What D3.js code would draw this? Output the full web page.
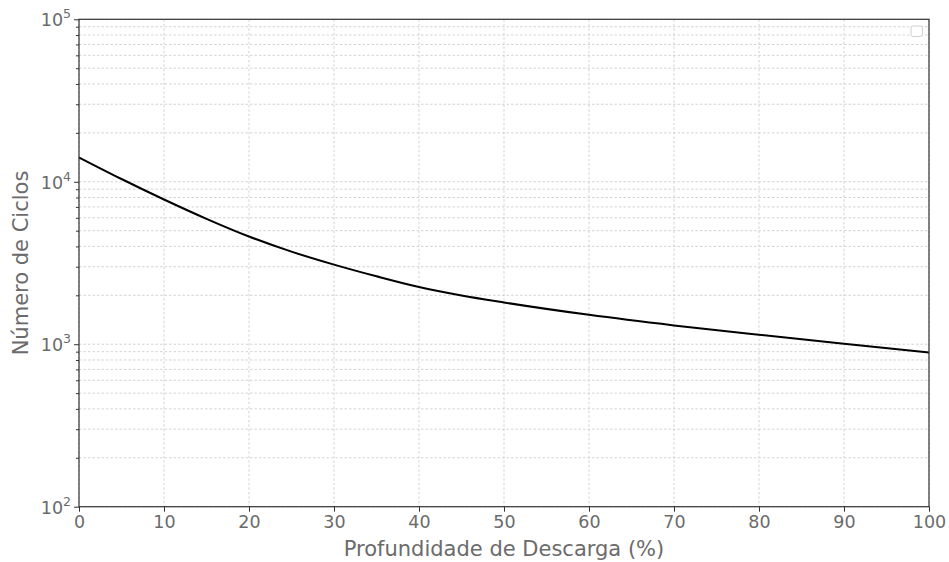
<!DOCTYPE html>
<html>
<head>
<meta charset="utf-8">
<script src="https://cdn.jsdelivr.net/npm/d3@7"></script>
<style>
body { margin: 0; background: #fff; }
text { font-family: "DejaVu Sans", sans-serif; fill: #6b6b6b; }
</style>
</head>
<body>
<div id="chart"></div>
<script>
// data
var dod = [0, 5, 10, 15, 20, 25, 30, 35, 40, 45, 50, 60, 70, 80, 90, 100];
var cycles = [14125, 10400, 7780, 5916, 4603, 3715, 3090, 2618, 2249, 1995, 1807, 1517, 1306, 1143, 1007, 889];
var xTicks = [0, 10, 20, 30, 40, 50, 60, 70, 80, 90, 100];
var yDecades = [2, 3, 4, 5];

var width = 949;
var height = 562;
var plotLeft = 79, plotRight = 929, plotTop = 19.3, plotBottom = 506.7;

var svg = d3.select("#chart").append("svg")
  .attr("width", width)
  .attr("height", height);

var x_scale = d3.scaleLinear().domain([0, 100]).range([plotLeft, plotRight]);
var y_scale = d3.scaleLog().domain([100, 100000]).range([plotBottom, plotTop]);

// minor values for grid
var minor = [];
yDecades.slice(0, 3).forEach(function(e){
  for (var m = 2; m <= 9; m++) minor.push(m * Math.pow(10, e));
});
var major = yDecades.map(function(e){ return Math.pow(10, e); });

var grid = svg.append("g").attr("class", "grid");
grid.selectAll("line.hy")
  .data(major.concat(minor))
  .enter().append("line")
  .attr("x1", plotLeft).attr("x2", plotRight)
  .attr("y1", function(d){ return y_scale(d); })
  .attr("y2", function(d){ return y_scale(d); })
  .attr("stroke", "#c8c8c8")
  .attr("stroke-width", 0.8)
  .attr("stroke-dasharray", "2.5,2");

grid.selectAll("line.vx")
  .data(xTicks)
  .enter().append("line")
  .attr("y1", plotTop).attr("y2", plotBottom)
  .attr("x1", function(d){ return x_scale(d); })
  .attr("x2", function(d){ return x_scale(d); })
  .attr("stroke", "#c8c8c8")
  .attr("stroke-width", 0.8)
  .attr("stroke-dasharray", "2.5,2");

// the curve
var line = d3.line()
  .x(function(d){ return x_scale(d[0]); })
  .y(function(d){ return y_scale(d[1]); })
  .curve(d3.curveMonotoneX);

svg.append("path")
  .datum(dod.map(function(d, i){ return [d, cycles[i]]; }))
  .attr("d", line)
  .attr("fill", "none")
  .attr("stroke", "#000")
  .attr("stroke-width", 2);

// frame
svg.append("rect")
  .attr("x", plotLeft).attr("y", plotTop)
  .attr("width", plotRight - plotLeft).attr("height", plotBottom - plotTop)
  .attr("fill", "none")
  .attr("stroke", "#333")
  .attr("stroke-width", 1.2);

// x axis
var xAxis = d3.axisBottom(x_scale).tickValues(xTicks).tickSize(5).tickPadding(4);
var gx = svg.append("g")
  .attr("transform", "translate(0," + plotBottom + ")")
  .call(xAxis);
gx.select(".domain").remove();
gx.selectAll(".tick line").attr("stroke", "#333");
gx.selectAll(".tick text")
  .attr("font-size", 17.5)
  .attr("font-family", "DejaVu Sans")
  .attr("fill", "#6b6b6b");

// y axis, major + minor ticks
var yAxis = d3.axisLeft(y_scale).tickValues(major).tickSize(5).tickFormat("");
var gy = svg.append("g")
  .attr("transform", "translate(" + plotLeft + ",0)")
  .call(yAxis);
gy.select(".domain").remove();
gy.selectAll(".tick line").attr("stroke", "#333");

var yMinor = d3.axisLeft(y_scale).tickValues(minor).tickSize(3).tickFormat("");
var gym = svg.append("g")
  .attr("transform", "translate(" + plotLeft + ",0)")
  .call(yMinor);
gym.select(".domain").remove();
gym.selectAll(".tick line").attr("stroke", "#333");

// 10^n labels
var ylab = svg.append("g").selectAll("text")
  .data(yDecades)
  .enter().append("text")
  .attr("x", plotLeft - 8)
  .attr("y", function(d){ return y_scale(Math.pow(10, d)) + 7; })
  .attr("text-anchor", "end")
  .attr("font-size", 17.5);
ylab.append("tspan").text("10");
ylab.append("tspan")
  .attr("dy", -8)
  .attr("font-size", 12.5)
  .text(function(d){ return d; });

// axis titles
svg.append("text")
  .attr("x", (plotLeft + plotRight) / 2)
  .attr("y", 556)
  .attr("text-anchor", "middle")
  .attr("font-size", 21)
  .text("Profundidade de Descarga (%)");

svg.append("text")
  .attr("transform", "translate(28," + ((plotTop + plotBottom) / 2) + ")rotate(-90)")
  .attr("text-anchor", "middle")
  .attr("font-size", 21)
  .text("Número de Ciclos");

// empty legend box
svg.append("rect")
  .attr("x", 911).attr("y", 26)
  .attr("width", 11.5).attr("height", 10.5)
  .attr("rx", 2)
  .attr("fill", "#fff")
  .attr("stroke", "#cfcfcf")
  .attr("stroke-width", 1);
</script>
</body>
</html>
